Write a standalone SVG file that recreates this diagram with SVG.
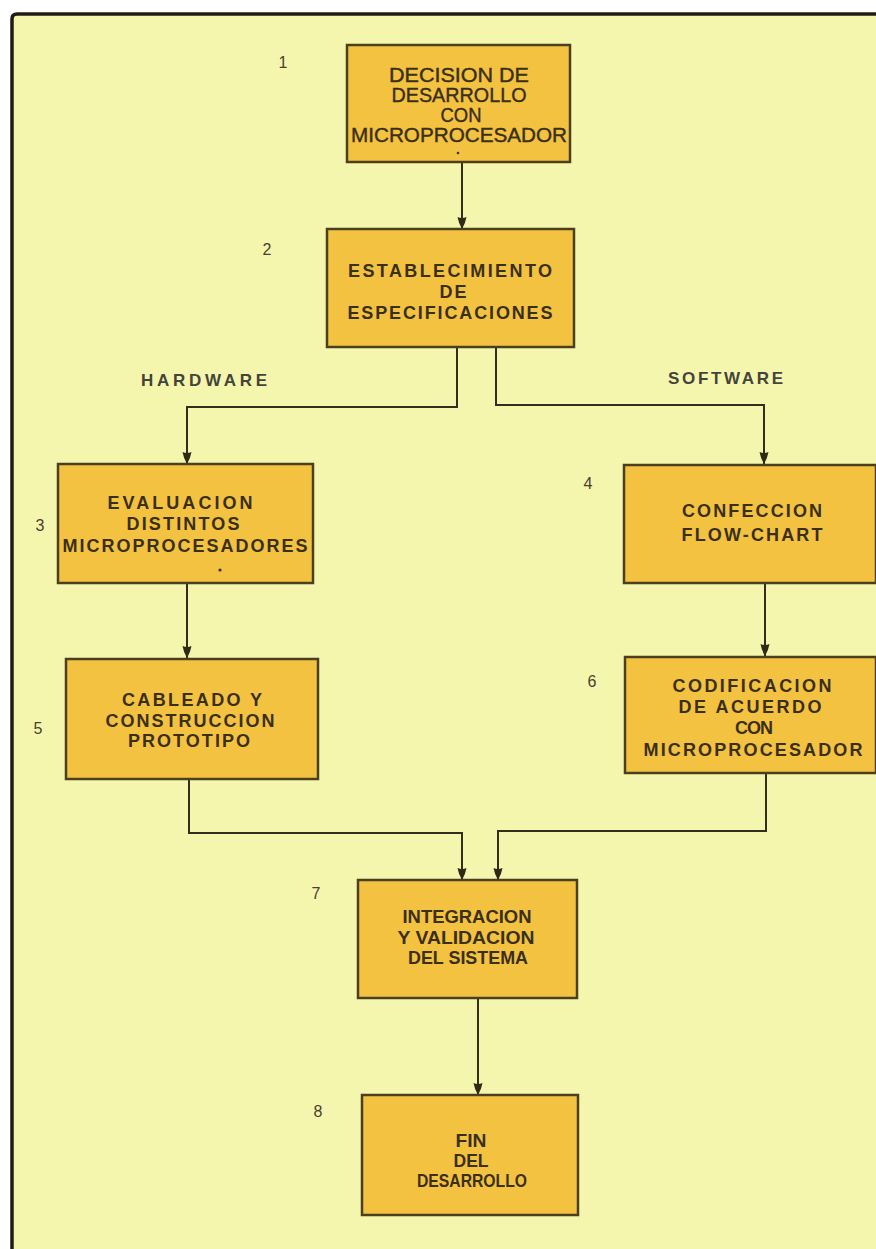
<svg xmlns="http://www.w3.org/2000/svg" width="876" height="1249" viewBox="0 0 876 1249">
<defs>
<marker id="ah" markerUnits="userSpaceOnUse" markerWidth="12" markerHeight="10" viewBox="0 0 12 10" refX="12" refY="5" orient="auto">
<path d="M0,0.5 Q6,1.5 12,5 Q6,8.5 0,9.5 Q2,5 0,0.5 z" fill="#2e2a18"/>
</marker>
<style>
.box{fill:#F3C241;stroke:#4a4020;stroke-width:2.5}
.t{font-family:"Liberation Sans",Arial,sans-serif;font-weight:bold;font-size:18px;fill:#3a2f1a;text-anchor:middle}
.tn{font-family:"Liberation Sans",Arial,sans-serif;font-size:20px;fill:#3a2f1a;stroke:#3a2f1a;stroke-width:0.4;text-anchor:middle}
.ts{font-family:"Liberation Sans",Arial,sans-serif;font-weight:bold;font-size:17.5px;fill:#3a2f1a;text-anchor:middle}
.num{font-family:"Liberation Sans",Arial,sans-serif;font-size:16px;fill:#4a4030;text-anchor:middle}
.lbl{font-family:"Liberation Sans",Arial,sans-serif;font-weight:bold;font-size:17px;fill:#45443a}
.c{fill:none;stroke:#332e1c;stroke-width:2}
</style>
</defs>
<rect x="0" y="0" width="876" height="1249" fill="#ffffff"/>
<rect x="12" y="14" width="864" height="1235" fill="#F5F6AE"/>
<path d="M12,1249 V19 Q12,14 17,14 H876" fill="none" stroke="#1e1c14" stroke-width="3.5"/>

<g id="labels">
<text class="lbl" x="141" y="386" textLength="126">HARDWARE</text>
<text class="lbl" x="668" y="384" textLength="115">SOFTWARE</text>
</g>

<g id="connectors">
<path class="c" d="M462,162 V229" marker-end="url(#ah)"/>
<path class="c" d="M457,347 V407 H187 V464" marker-end="url(#ah)"/>
<path class="c" d="M496,347 V405 H764 V464" marker-end="url(#ah)"/>
<path class="c" d="M187,583 V658" marker-end="url(#ah)"/>
<path class="c" d="M765,583 V656" marker-end="url(#ah)"/>
<path class="c" d="M189,779 V833 H462 V880" marker-end="url(#ah)"/>
<path class="c" d="M766,773 V831 H498 V880" marker-end="url(#ah)"/>
<path class="c" d="M478,998 V1095" marker-end="url(#ah)"/>
</g>

<g id="n1">
<rect class="box" x="347" y="45" width="223" height="117"/>
<text class="num" x="283" y="68">1</text>
<text class="tn" x="459" y="82" textLength="140" lengthAdjust="spacingAndGlyphs">DECISION DE</text>
<text class="tn" x="459" y="102" textLength="135" lengthAdjust="spacingAndGlyphs">DESARROLLO</text>
<text class="tn" x="461" y="122" textLength="41" lengthAdjust="spacingAndGlyphs">CON</text>
<text class="tn" x="459" y="142" textLength="216" lengthAdjust="spacingAndGlyphs">MICROPROCESADOR</text>
<circle cx="458" cy="153" r="1.3" fill="#3a2f1a"/>
</g>

<g id="n2">
<rect class="box" x="327" y="229" width="247" height="118"/>
<text class="num" x="267" y="255">2</text>
<text class="t" x="450" y="277" textLength="204">ESTABLECIMIENTO</text>
<text class="t" x="453" y="298" textLength="27">DE</text>
<text class="t" x="450" y="319" textLength="205">ESPECIFICACIONES</text>
</g>

<g id="n3">
<rect class="box" x="58" y="464" width="255" height="119"/>
<text class="num" x="40" y="531">3</text>
<text class="t" x="180" y="509" textLength="145">EVALUACION</text>
<text class="t" x="183" y="530" textLength="113">DISTINTOS</text>
<text class="t" x="185" y="552" textLength="245">MICROPROCESADORES</text>
<circle cx="220" cy="570" r="1.6" fill="#3a2f1a"/>
</g>

<g id="n4">
<rect class="box" x="624" y="465" width="252" height="118"/>
<text class="num" x="588" y="489">4</text>
<text class="t" x="752" y="517" textLength="140">CONFECCION</text>
<text class="t" x="752" y="541" textLength="141">FLOW-CHART</text>
</g>

<g id="n5">
<rect class="box" x="66" y="659" width="252" height="120"/>
<text class="num" x="38" y="734">5</text>
<text class="t" x="192" y="706" textLength="140">CABLEADO Y</text>
<text class="t" x="190" y="727" textLength="169">CONSTRUCCION</text>
<text class="t" x="189" y="747" textLength="122">PROTOTIPO</text>
</g>

<g id="n6">
<rect class="box" x="625" y="657" width="251" height="116"/>
<text class="num" x="592" y="687">6</text>
<text class="t" x="752" y="692" textLength="159">CODIFICACION</text>
<text class="t" x="750" y="713" textLength="143">DE ACUERDO</text>
<text class="t" x="754" y="734" textLength="38">CON</text>
<text class="t" x="753" y="756" textLength="219">MICROPROCESADOR</text>
</g>

<g id="n7">
<rect class="box" x="358" y="880" width="219" height="118"/>
<text class="num" x="316" y="899">7</text>
<text class="ts" x="467" y="923" textLength="129" lengthAdjust="spacingAndGlyphs">INTEGRACION</text>
<text class="ts" x="466" y="944" textLength="137" lengthAdjust="spacingAndGlyphs">Y VALIDACION</text>
<text class="ts" x="468" y="964" textLength="120" lengthAdjust="spacingAndGlyphs">DEL SISTEMA</text>
</g>

<g id="n8">
<rect class="box" x="362" y="1095" width="216" height="120"/>
<text class="num" x="318" y="1117">8</text>
<text class="ts" x="471" y="1147" textLength="31" lengthAdjust="spacingAndGlyphs">FIN</text>
<text class="ts" x="471" y="1167" textLength="35" lengthAdjust="spacingAndGlyphs">DEL</text>
<text class="ts" x="472" y="1187" textLength="110" lengthAdjust="spacingAndGlyphs">DESARROLLO</text>
</g>
</svg>
